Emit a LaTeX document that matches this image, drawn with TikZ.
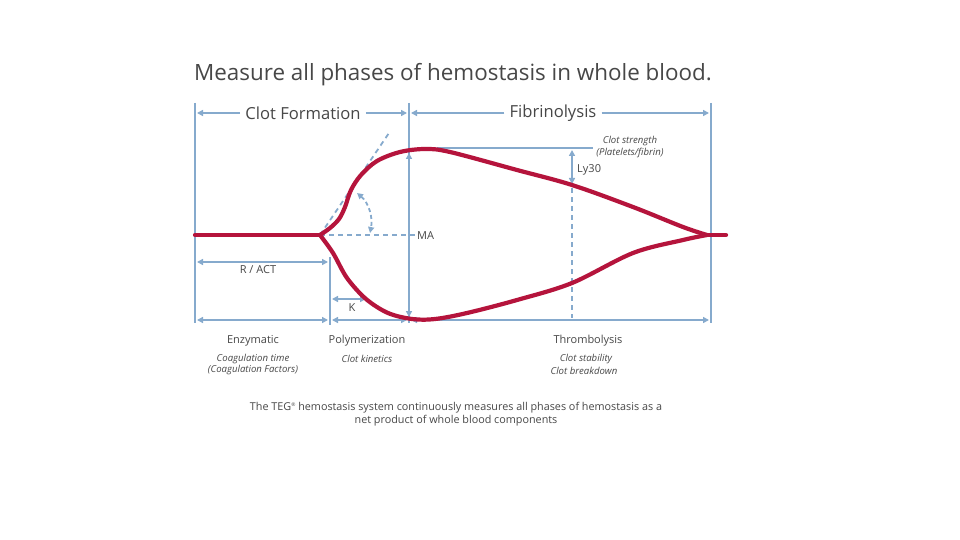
\documentclass[tikz,border=0pt]{standalone}
\usepackage{fontspec}
\setmainfont{Open Sans}
\usetikzlibrary{arrows.meta}
\definecolor{tegblue}{HTML}{86AACD}
\definecolor{tegred}{HTML}{B5143C}
\definecolor{txt}{HTML}{474747}
\tikzset{
  bl/.style={draw=tegblue, line width=2.8pt},
  tip/.tip={Triangle[length=6pt,width=6pt]},
  dim/.style={bl, tip-tip},
  oneway/.style={bl, -tip},
  dashln/.style={draw=tegblue, line width=1.8pt, dash pattern=on 5pt off 4pt},
  redc/.style={draw=tegred, line width=4.2pt, line join=round, line cap=round},
  lab/.style={text=txt, inner sep=0pt, font=\fontsize{11}{13}\selectfont},
  sub/.style={text=txt, inner sep=0pt, font=\fontsize{9.6}{11}\selectfont\itshape},
  head/.style={text=txt, inner sep=5pt, font=\fontsize{16.6}{19}\selectfont},
}
\begin{document}
\begin{tikzpicture}[x=1pt,y=-1pt]
\useasboundingbox[fill=white] (0,0) rectangle (960,540);

% title
\node[text=txt, font=\fontsize{22.4}{26}\selectfont] (title) at (453,75) {Measure all phases of hemostasis in whole blood.};

% vertical boundaries
\coordinate (v1t) at (195,103); \coordinate (v1b) at (195,323);
\coordinate (v2t) at (409,103); \coordinate (v2b) at (409,323);
\coordinate (v3t) at (711,103); \coordinate (v3b) at (711,323);
\coordinate (v4t) at (330,257); \coordinate (v4b) at (330,325);
\draw[bl] (v1t) -- (v1b);
\draw[bl] (v2t) -- (v2b);
\draw[bl] (v3t) -- (v3b);
\draw[bl] (v4t) -- (v4b);

% top headers
\node[head] (cf) at (303,113) {Clot Formation};
\node[head] (fb) at (553,113) {Fibrinolysis};
\coordinate (cfL) at (197,113); \coordinate (cfR) at (407,113);
\coordinate (fbL) at (411,113); \coordinate (fbR) at (709,113);
\draw[oneway] (cf.west) -- (cfL);
\draw[oneway] (cf.east) -- (cfR);
\draw[oneway] (fb.west) -- (fbL);
\draw[oneway] (fb.east) -- (fbR);

% clot strength line
\coordinate (csL) at (437,148); \coordinate (csR) at (593,148);
\draw[bl] (csL) -- (csR);
\node[sub] (cs1) at (630,141) {Clot strength};
\node[sub] (cs2) at (630,153) {(Platelets/fibrin)};

% Ly30
\coordinate (lyT) at (572,150); \coordinate (lyB) at (572,184);
\draw[dim] (lyT) -- (lyB);
\node[lab, anchor=west] (ly) at (577,170) {Ly30};
\coordinate (lydT) at (572,188); \coordinate (lydB) at (572,318);
\draw[dashln] (lydT) -- (lydB);

% MA
\coordinate (maT) at (409,153); \coordinate (maB) at (409,317);
\draw[dim] (maT) -- (maB);
\coordinate (o) at (320,235);
\coordinate (maE) at (416,235);
\draw[dashln] (o) -- (maE);
\node[lab, anchor=west] (ma) at (417,236) {MA};

% tangent and angle
\coordinate (tanE) at (389,133);
\draw[dashln] (o) -- (tanE);
\coordinate (angA) at (357,193); \coordinate (angB) at (370,233);
\draw[dashln, tip-tip, dash pattern=on 4pt off 3pt] (angA) .. controls (369,203) and (373,218) .. (angB);

% R / ACT
\coordinate (rL) at (197,262); \coordinate (rR) at (328,262);
\draw[dim] (rL) -- (rR);
\node[lab] (ract) at (258,270) {R / ACT};

% K
\coordinate (kL) at (332,299); \coordinate (kR) at (366,299);
\draw[dim] (kL) -- (kR);
\node[lab] (k) at (352,308) {K};

% bottom dims
\coordinate (b1) at (197,320); \coordinate (b2) at (328,320);
\coordinate (b3) at (332,320); \coordinate (b4) at (407,320);
\coordinate (b5) at (411,320); \coordinate (b6) at (709,320);
\draw[dim] (b1) -- (b2);
\draw[dim] (b3) -- (b4);
\draw[dim] (b5) -- (b6);

% red TEG trace
\draw[redc] (195,235) -- (320,235);
\draw[redc] plot[smooth, tension=0.55] coordinates {(320,235) (330,228) (339,219) (345,207) (351,190) (361,175) (377,161) (400,152) (425,149) (450,152) (517,170) (572,185) (633,207) (683,227) (707,235)};
\draw[redc] plot[smooth, tension=0.55] coordinates {(320,235) (333,253) (347,278) (366,299) (388,313) (412,319) (435,319) (467,313) (517,300) (572,283) (633,253) (683,240) (707,235)};
\draw[redc] (707,235) -- (726,235);

% bottom labels
\node[lab] (enz) at (253,341) {Enzymatic};
\node[sub] (enz1) at (253,359) {Coagulation time};
\node[sub] (enz2) at (253,370) {(Coagulation Factors)};
\node[lab] (pol) at (367,341) {Polymerization};
\node[sub] (pol1) at (367,359) {Clot kinetics};
\node[lab] (thr) at (588,341) {Thrombolysis};
\node[sub] (thr1) at (586,359) {Clot stability};
\node[sub] (thr2) at (584,371) {Clot breakdown};

% caption
\node[text=txt, inner sep=0pt, align=center, font=\fontsize{10.8}{13.5}\selectfont] (cap) at (456,414)
 {The TEG{\fontsize{5}{5}\selectfont\raisebox{3.5pt}{®}} hemostasis system continuously measures all phases of hemostasis as a\\ net product of whole blood components};
\end{tikzpicture}
\end{document}
